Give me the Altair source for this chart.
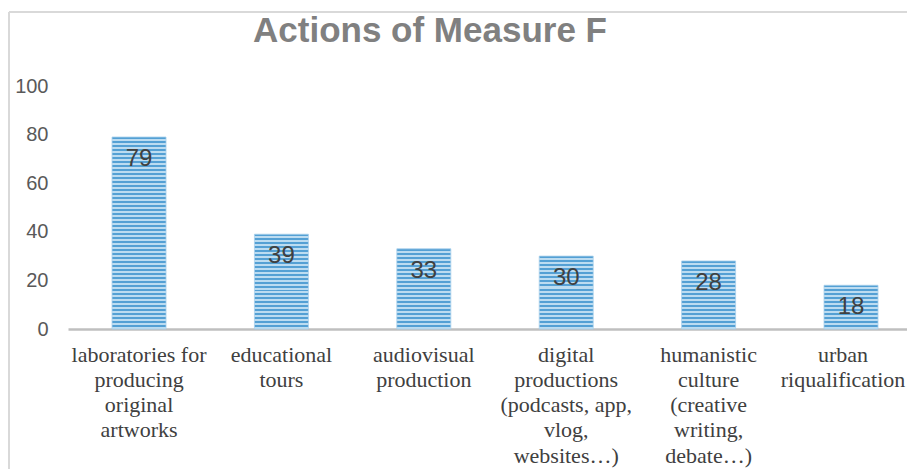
import altair as alt
import pandas as pd

categories = [
    "laboratories for|producing|original|artworks",
    "educational|tours",
    "audiovisual|production",
    "digital|productions|(podcasts, app,|vlog,|websites…)",
    "humanistic|culture|(creative|writing,|debate…)",
    "urban|riqualification",
]
values = [79, 39, 33, 30, 28, 18]
y_ticks = [0, 20, 40, 60, 80, 100]
title_text = "Actions of Measure F"

df = pd.DataFrame({"cat": categories, "val": values})

W, H = 839, 243
PAD_L, PAD_T = 60, 78
DARK, LIGHT = "#54a0d4", "#bcdcf1"

xscale = alt.Scale(domain=categories, paddingInner=0.6208, paddingOuter=0.2564, align=0.603)
yscale = alt.Scale(domain=[0, 100], nice=False)

x_enc = alt.X(
    "cat:N", sort=None, scale=xscale, title=None,
    axis=alt.Axis(
        labelAngle=0, labelExpr="split(datum.label, '|')",
        labelFont="Liberation Serif", labelFontSize=22, labelColor="#404040",
        labelLineHeight=25.3, labelPadding=15, labelBaseline="top",
        labelOffset={"expr": "datum.index == 1 ? -8 : 0"},
        ticks=False, domainColor="#bfbfbf", domainWidth=2.5, labelLimit=0,
    ),
)
y_enc = alt.Y(
    "val:Q", scale=yscale, title=None,
    axis=alt.Axis(
        values=y_ticks, grid=False, ticks=False, domain=False,
        labelFont="Liberation Sans", labelFontSize=20, labelColor="#595959",
        labelPadding=20,
    ),
)


def stripes(n):
    stops = []
    for i in range(n):
        a, b, c = i / n, (i + 0.5) / n, (i + 1) / n
        stops += [
            alt.GradientStop(offset=a, color=DARK),
            alt.GradientStop(offset=b, color=DARK),
            alt.GradientStop(offset=b, color=LIGHT),
            alt.GradientStop(offset=c, color=LIGHT),
        ]
    return alt.LinearGradient(gradient="linear", stops=stops, x1=0, x2=0, y1=0, y2=1)


layers = []
for cat, v in zip(categories, values):
    n = max(1, round(v / 100 * H / 4))
    layers.append(
        alt.Chart(df).transform_filter(alt.datum.cat == cat)
        .mark_bar(color=stripes(n), stroke="#a8d0ec", strokeWidth=0.8)
        .encode(x=x_enc, y=y_enc)
    )

labels = alt.Chart(df).mark_text(
    baseline="middle", dy=22, font="Liberation Sans", fontSize=24, color="#404040"
).encode(x=x_enc, y=y_enc, text="val:Q")

title = alt.Chart(df.head(1)).mark_text(
    text=title_text, font="Liberation Sans", fontWeight="bold", fontSize=35,
    color="#808080", align="center", baseline="alphabetic",
).encode(x=alt.value(430 - 8 - PAD_L), y=alt.value(42 - 8 - PAD_T))

frame_v = alt.Chart(df.head(1)).mark_rule(color="#d9d9d9", strokeWidth=2).encode(
    x=alt.value(9 - 8 - PAD_L), y=alt.value(12 - 8 - PAD_T), y2=alt.value(H + 200)
)
frame_h = alt.Chart(df.head(1)).mark_rule(color="#d9d9d9", strokeWidth=2).encode(
    y=alt.value(12 - 8 - PAD_T), x=alt.value(9 - 8 - PAD_L), x2=alt.value(W + 20)
)

chart = alt.layer(frame_v, frame_h, *layers, labels, title).properties(
    width=W, height=H,
    autosize=alt.AutoSizeParams(type="none"),
    padding={"left": PAD_L, "top": PAD_T, "right": 0, "bottom": 142},
).configure(background="white").configure_view(stroke=None)

chart.save("out.html", embed_options={"renderer": "svg", "actions": False})
